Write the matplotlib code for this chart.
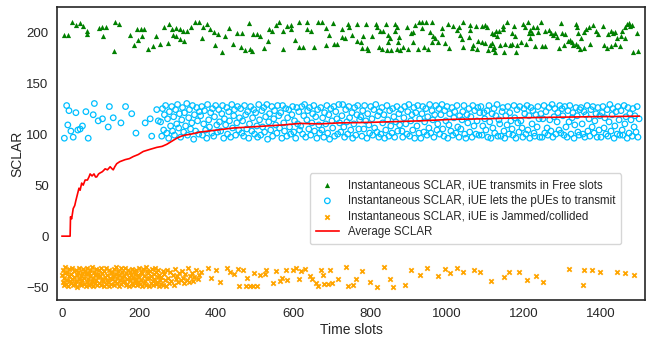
import matplotlib
matplotlib.use("Agg")
import matplotlib.pyplot as plt

# green: iUE transmits in free slots (slot, SCLAR)
green_pts = [
    (6, 197), (16, 197), (25, 210), (36, 207), (47, 209), (55, 206), (66, 201), (66, 198), (96, 204), (105, 205),
    (107, 196), (115, 205), (135, 181), (138, 210), (147, 208), (176, 197), (187, 187), (195, 203), (197, 192), (204, 203),
    (207, 196), (214, 203), (224, 183), (235, 186), (244, 196), (255, 188), (265, 205), (274, 189), (277, 208), (286, 203),
    (287, 197), (296, 196), (297, 204), (306, 203), (306, 193), (315, 201), (316, 191), (325, 201), (335, 205), (345, 210),
    (356, 210), (364, 194),
    (365, 205), (376, 208), (384, 203), (396, 200), (405, 198), (397, 187), (415, 180), (424, 196), (434, 204), (445, 188),
    (455, 199), (467, 199), (465, 185), (475, 182), (487, 183), (494, 181), (485, 209), (497, 198), (506, 198), (514, 196),
    (525, 184), (535, 191), (537, 203), (545, 201), (555, 207), (564, 210), (575, 201), (575, 183), (585, 206), (596, 207),
    (594, 203), (605, 192), (616, 210), (616, 185), (625, 185), (636, 210), (636, 203), (646, 201), (655, 185), (666, 210),
    (675, 210), (686, 204), (694, 197), (686, 187), (705, 209), (707, 188), (715, 188), (726, 203), (727, 195), (735, 194),
    (744, 208),
    (745, 205), (754, 197), (767, 208), (765, 191), (776, 190), (782, 196), (778, 184), (791, 184), (789, 208), (796, 182),
    (804, 196), (815, 208), (819, 205), (825, 201), (835, 201), (824, 185), (841, 208), (830, 183), (843, 182), (854, 182),
    (848, 197), (852, 194), (846, 190), (865, 208), (869, 205), (866, 201), (875, 195), (872, 190), (869, 183), (878, 182),
    (886, 185), (899, 183), (895, 205), (906, 199), (912, 200), (912, 190), (918, 207), (927, 210), (935, 210), (945, 210),
    (960, 210), (924, 183), (940, 185), (950, 183), (934, 204), (956, 200), (964, 196), (970, 194), (962, 190), (976, 190),
    (986, 204), (986, 198), (995, 189), (1002, 208), (1005, 184), (1016, 206), (1025, 202), (1031, 205), (1034, 197), (1038, 193),
    (1042, 210), (1042, 185), (1060, 207), (1060, 202), (1057, 195), (1068, 187), (1064, 184), (1075, 206), (1090, 206), (1099, 207),
    (1103, 205), (1081, 191), (1090, 190), (1099, 189), (1112, 187), (1077, 183), (1107, 182), (1120, 183), (1116, 199), (1123, 198),
    (1127, 201), (1136, 201), (1146, 203), (1145, 206), (1157, 210), (1116, 189), (1129, 196), (1122, 185), (1138, 187), (1151, 188),
    (1164, 187), (1168, 188), (1125, 180), (1148, 180), (1168, 199), (1177, 196), (1174, 206), (1181, 187), (1191, 190), (1205, 188),
    (1179, 180), (1198, 208), (1203, 205), (1211, 210), (1216, 202), (1214, 199), (1222, 199), (1224, 205), (1233, 205), (1237, 200),
    (1243, 210), (1216, 194), (1229, 186), (1246, 186), (1255, 186), (1255, 201), (1266, 202), (1269, 199), (1276, 197), (1281, 199),
    (1285, 195), (1298, 199), (1306, 198), (1296, 209), (1290, 184), (1304, 187), (1314, 191), (1324, 190), (1328, 187), (1335, 188),
    (1341, 186), (1345, 183), (1356, 184), (1371, 188), (1320, 192), (1335, 208), (1338, 205), (1341, 199), (1347, 194), (1361, 203),
    (1370, 205), (1378, 207), (1387, 201), (1393, 198), (1355, 200), (1406, 206), (1408, 187), (1419, 198), (1425, 201), (1430, 199),
    (1436, 200), (1415, 184), (1425, 186), (1436, 188), (1449, 186), (1441, 194), (1451, 196), (1454, 201), (1462, 205), (1467, 208),
    (1474, 209), (1475, 206), (1480, 207), (1462, 194), (1482, 180), (1497, 181), (1493, 199),
]

# blue: iUE lets the pUEs transmit, sparse start
blue_early = [
    (6, 96), (12, 128), (15, 109), (18, 123), (23, 103), (29, 97), (36, 121), (41, 104), (47, 105), (53, 108),
    (62, 122), (68, 96), (81, 119), (84, 130), (94, 113), (105, 115), (120, 107), (123, 127), (133, 116), (153, 111),
    (165, 127), (181, 120), (192, 101), (216, 111), (229, 115), (233, 98), (246, 124), (250, 113),
]

# blue, dense part
blue_x = [
    256, 259, 261, 264, 266, 269, 272, 274, 277, 279, 282, 285, 287, 290, 292, 295, 298, 300, 303, 305,
    308, 311, 313, 316, 318, 321, 324, 326, 329, 331, 334, 337, 339, 342, 344, 347, 350, 352, 355, 357,
    360, 363, 365, 368, 370, 373, 376, 378, 381, 383, 386, 389, 391, 394, 396, 399, 402, 404, 407, 409,
    412, 415, 417, 420, 422, 425, 428, 430, 433, 435, 438, 441, 443, 446, 448, 451, 454, 456, 459, 461,
    464, 467, 469, 472, 474, 477, 480, 482, 485, 487, 490, 493, 495, 498, 500, 503, 506, 508, 511, 513,
    516, 519, 521, 524, 526, 529, 532, 534, 537, 539, 542, 545, 547, 550, 552, 555, 558, 560, 563, 565,
    568, 571, 573, 576, 578, 581, 584, 586, 589, 591, 594, 597, 599, 602, 604, 607, 610, 612, 615, 617,
    620, 623, 625, 628, 630, 633, 636, 638, 641, 643, 646, 649, 651, 654, 656, 659, 662, 664, 667, 669,
    672, 675, 677, 680, 682, 685, 688, 690, 693, 695, 698, 701, 703, 706, 708, 711, 714, 716, 719, 721,
    724, 727, 729, 732, 734, 737, 740, 742, 745, 747, 750, 753, 755, 758, 760, 763, 766, 768, 771, 773,
    776, 779, 781, 784, 786, 789, 792, 794, 797, 799, 802, 805, 807, 810, 812, 815, 818, 820, 823, 825,
    828, 831, 833, 836, 838, 841, 844, 846, 849, 851, 854, 857, 859, 862, 864, 867, 870, 872, 875, 877,
    880, 883, 885, 888, 890, 893, 896, 898, 901, 903, 906, 909, 911, 914, 916, 919, 922, 924, 927, 929,
    932, 935, 937, 940, 942, 945, 948, 950, 953, 955, 958, 961, 963, 966, 968, 971, 974, 976, 979, 981,
    984, 987, 989, 992, 994, 997, 1000, 1002, 1005, 1007, 1010, 1013, 1015, 1018, 1020, 1023, 1026, 1028, 1031, 1033,
    1036, 1039, 1041, 1044, 1046, 1049, 1052, 1054, 1057, 1059, 1062, 1065, 1067, 1070, 1072, 1075, 1078, 1080, 1083, 1085,
    1088, 1091, 1093, 1096, 1098, 1101, 1104, 1106, 1109, 1111, 1114, 1117, 1119, 1122, 1124, 1127, 1130, 1132, 1135, 1137,
    1140, 1143, 1145, 1148, 1150, 1153, 1156, 1158, 1161, 1163, 1166, 1169, 1171, 1174, 1176, 1179, 1182, 1184, 1187, 1189,
    1192, 1195, 1197, 1200, 1202, 1205, 1208, 1210, 1213, 1215, 1218, 1221, 1223, 1226, 1228, 1231, 1234, 1236, 1239, 1241,
    1244, 1247, 1249, 1252, 1254, 1257, 1260, 1262, 1265, 1267, 1270, 1273, 1275, 1278, 1280, 1283, 1286, 1288, 1291, 1293,
    1296, 1299, 1301, 1304, 1306, 1309, 1312, 1314, 1317, 1319, 1322, 1325, 1327, 1330, 1332, 1335, 1338, 1340, 1343, 1345,
    1348, 1351, 1353, 1356, 1358, 1361, 1364, 1366, 1369, 1371, 1374, 1377, 1379, 1382, 1384, 1387, 1390, 1392, 1395, 1397,
    1400, 1403, 1405, 1408, 1410, 1413, 1416, 1418, 1421, 1423, 1426, 1429, 1431, 1434, 1436, 1439, 1442, 1444, 1447, 1449,
    1452, 1455, 1457, 1460, 1462, 1465, 1468, 1470, 1473, 1475, 1478, 1481, 1483, 1486, 1488, 1491, 1494, 1496, 1499,
]
blue_y = [
    112, 98, 125, 104, 119, 128, 101, 115, 96, 122, 108, 127, 103, 117, 99, 124, 110, 129, 106, 120,
    97, 114, 126, 102, 121, 108, 130, 99, 116, 124, 105, 111, 128, 95, 119, 103, 126, 113, 100, 122,
    118, 127, 99, 110, 123, 104, 96, 129, 114, 107, 121, 101, 125, 98, 117, 128, 109, 102, 124, 112,
    103, 120, 128, 96, 115, 109, 126, 100, 122, 113, 97, 129, 106, 118, 124, 99, 111, 127, 104, 116,
    125, 101, 113, 98, 128, 119, 105, 122, 96, 110, 127, 103, 116, 124, 100, 121, 108, 97, 129, 114,
    99, 123, 107, 126, 102, 117, 129, 95, 112, 120, 104, 127, 98, 115, 123, 109, 101, 128, 118, 106,
    121, 96, 128, 111, 103, 125, 98, 116, 124, 107, 100, 119, 127, 102, 113, 96, 126, 110, 122, 104,
    108, 127, 100, 118, 129, 97, 114, 123, 105, 126, 99, 111, 120, 128, 103, 117, 96, 124, 109, 101,
    126, 104, 116, 97, 121, 110, 128, 101, 119, 95, 125, 113, 106, 127, 98, 122, 115, 100, 129, 111,
    102, 118, 129, 107, 97, 124, 112, 100, 127, 116, 104, 121, 96, 110, 126, 99, 119, 128, 105, 114,
    117, 98, 123, 105, 128, 113, 96, 120, 109, 101, 127, 115, 99, 124, 106, 129, 102, 118, 97, 122,
    100, 126, 111, 119, 96, 104, 128, 114, 98, 123, 108, 101, 125, 117, 97, 112, 127, 103, 120, 109,
    124, 103, 97, 116, 127, 110, 100, 122, 129, 98, 113, 119, 104, 126, 96, 121, 108, 128, 101, 115,
    96, 120, 127, 102, 112, 125, 99, 117, 106, 129, 101, 123, 114, 97, 119, 128, 104, 110, 125, 100,
    119, 129, 105, 98, 123, 113, 127, 96, 109, 120, 103, 126, 99, 116, 122, 101, 128, 107, 97, 118,
    105, 114, 122, 128, 100, 96, 119, 111, 125, 102, 117, 97, 128, 108, 123, 100, 113, 126, 99, 121,
    127, 99, 108, 121, 115, 104, 123, 97, 128, 112, 96, 120, 106, 125, 101, 118, 129, 98, 114, 110,
    98, 122, 126, 103, 96, 118, 109, 127, 100, 121, 113, 105, 99, 128, 116, 96, 124, 111, 102, 127,
    113, 106, 97, 125, 120, 100, 128, 104, 118, 96, 126, 110, 123, 101, 98, 119, 107, 127, 115, 97,
    120, 97, 115, 128, 101, 122, 106, 99, 126, 114, 103, 129, 97, 117, 125, 100, 112, 121, 104, 128,
    101, 125, 118, 99, 127, 107, 97, 123, 112, 128, 100, 116, 121, 96, 109, 126, 118, 102, 99, 124,
    126, 110, 100, 122, 97, 119, 128, 103, 115, 98, 124, 107, 127, 101, 113, 120, 97, 126, 104, 118,
    97, 121, 127, 106, 116, 100, 124, 98, 112, 129, 103, 119, 125, 96, 108, 122, 100, 127, 114, 99,
    123, 104, 99, 128, 110, 117, 96, 126, 101, 120, 114, 98, 125, 107, 118, 102, 127, 97, 115,
]

# orange: iUE jammed / collided, dense start
orange_x = [
    0, 2, 3, 5, 6, 8, 9, 11, 13, 14, 16, 17, 19, 21, 22, 24, 25, 27, 29, 30,
    32, 33, 35, 37, 38, 40, 41, 43, 45, 46, 48, 49, 51, 53, 54, 56, 57, 59, 61, 62,
    64, 65, 67, 69, 70, 72, 73, 75, 77, 78, 80, 81, 83, 85, 86, 88, 89, 91, 93, 94,
    96, 97, 99, 101, 102, 104, 105, 107, 109, 110, 112, 113, 115, 117, 118, 120, 121, 123, 125, 126,
    128, 129, 131, 133, 134, 136, 137, 139, 141, 142, 144, 145, 147, 149, 150, 152, 153, 155, 157, 158,
    160, 161, 163, 165, 166, 168, 169, 171, 173, 174, 176, 177, 179, 181, 182, 184, 185, 187, 189, 190,
    192, 193, 195, 197, 198, 200, 201, 203, 205, 206, 208, 209, 211, 213, 214, 216, 217, 219, 221, 222,
    224, 225, 227, 229, 230, 232, 233, 235, 237, 238, 240, 241, 243, 245, 246, 248, 249, 251, 253, 254,
    256, 258, 261, 263, 266, 268, 271, 273, 276, 279, 281, 284, 287, 290, 293, 296, 299, 302, 305, 308,
    311, 314, 317, 320, 324, 327, 330, 333, 337, 340, 344, 348, 352, 356, 360,
]
orange_y = [
    -38, -45, -33, -48, -41, -36, -30, -47, -43, -35, -49, -39, -32, -44, -46, -37, -31, -42, -48, -34,
    -40, -47, -33, -44, -38, -50, -35, -42, -31, -46, -39, -48, -36, -43, -32, -47, -41, -34, -49, -37,
    -45, -31, -42, -48, -36, -39, -33, -47, -44, -30, -41, -49, -35, -38, -46, -32, -43, -48, -37, -40,
    -33, -46, -39, -31, -48, -42, -36, -44, -49, -34, -40, -47, -31, -43, -38, -45, -33, -49, -41, -36,
    -47, -35, -42, -39, -32, -48, -44, -37, -30, -46, -41, -34, -49, -38, -43, -31, -47, -40, -35, -45,
    -39, -44, -31, -48, -36, -42, -47, -33, -40, -49, -35, -43, -38, -46, -32, -41, -48, -34, -44, -37,
    -42, -33, -48, -38, -45, -31, -40, -47, -35, -43, -49, -36, -32, -46, -39, -44, -30, -48, -41, -34,
    -36, -49, -41, -34, -46, -39, -32, -44, -48, -37, -42, -31, -47, -35, -45, -40, -33, -49, -38, -43,
    -47, -40, -34, -48, -37, -43, -49, -33, -41, -46, -35, -44, -38, -48, -32, -42, -39, -45, -36, -43,
    -34, -41, -46, -37, -43, -31, -45, -39, -36, -44, -40, -33, -42, -38, -35,
]

# orange, sparse part
orange_late = [
    (380, -31), (386, -41), (400, -33), (410, -45), (428, -31), (436, -35), (447, -37), (456, -32), (460, -49), (471, -33),
    (480, -41), (477, -49), (487, -49), (495, -49), (507, -49), (499, -36), (514, -38), (527, -37), (530, -33), (547, -46),
    (556, -34), (566, -44), (571, -41), (581, -33), (585, -43), (599, -33), (609, -31), (616, -42), (621, -34), (632, -32),
    (644, -39), (650, -42), (660, -46), (666, -49), (673, -33), (679, -38), (681, -47), (692, -47), (702, -46), (696, -33),
    (718, -42), (737, -30), (742, -49), (757, -48), (763, -42), (780, -34), (800, -45), (817, -50), (837, -30), (852, -42),
    (860, -50), (890, -48), (906, -33), (930, -38), (949, -31), (976, -39), (996, -32), (1008, -36), (1027, -31), (1041, -35),
    (1071, -33), (1087, -35), (1113, -44), (1149, -40), (1161, -35), (1187, -35), (1207, -43), (1231, -39), (1250, -45), (1316, -32),
    (1352, -48), (1357, -33), (1377, -33), (1397, -35), (1441, -35), (1462, -36), (1486, -38),
]

# average SCLAR
red_x = [0, 10, 21, 22, 25, 29, 33, 36, 40, 44, 47, 51, 55, 60, 66, 70, 73, 78, 83, 87,
         90, 95, 99, 104, 107, 112, 118, 125, 130, 133, 137, 142, 150, 164, 175, 185, 198, 211, 228, 246,
         260, 272, 285, 298, 310, 319, 335, 358, 380, 402, 445, 490, 532, 575, 618, 670, 720, 800, 843, 930,
         1016, 1100, 1190, 1280, 1363, 1440, 1499]
red_y = [0, 0, 0, 19, 17, 27, 30, 35, 41, 47, 45, 52, 50, 55, 55, 58, 61, 59, 61, 58,
         58, 61, 62, 63, 64, 66, 65, 68, 66, 65, 68, 71, 73, 75, 76, 78, 80, 83, 85, 87,
         88, 90, 93, 96, 98, 99, 100, 102, 103, 104, 106, 107, 108, 109, 110.5, 110, 111, 111.5, 112, 113,
         114.5, 115, 116, 116.5, 117, 117.3, 117.6]

plt.rcParams["font.family"] = ["Liberation Sans", "DejaVu Sans"]
plt.rcParams["text.color"] = "#262626"
plt.rcParams["axes.labelcolor"] = "#262626"
plt.rcParams["xtick.color"] = "#262626"
plt.rcParams["ytick.color"] = "#262626"

fig = plt.figure(figsize=(6.51, 3.37), dpi=100)
ax = fig.add_axes([0.0876, 0.110, 0.903, 0.869])

gx = [p[0] for p in green_pts]
gy = [p[1] for p in green_pts]
bx = [p[0] for p in blue_early] + blue_x
by = [p[1] for p in blue_early] + blue_y
ox = orange_x + [p[0] for p in orange_late]
oy = orange_y + [p[1] for p in orange_late]

ax.scatter(gx, gy, marker="^", s=14, color="green", linewidths=0,
           label="Instantaneous SCLAR, iUE transmits in Free slots")
ax.scatter(bx, by, marker="o", s=16, facecolors="none", edgecolors="deepskyblue", linewidths=0.9,
           label="Instantaneous SCLAR, iUE lets the pUEs to transmit")
ax.scatter(ox, oy, marker="x", s=10, color="orange", linewidths=1.3,
           label="Instantaneous SCLAR, iUE is Jammed/collided")
ax.plot(red_x, red_y, color="red", linewidth=1.2, label="Average SCLAR")

ax.set_xlim(-13, 1514)
ax.set_ylim(-62.5, 224.5)
ax.set_xticks([0, 200, 400, 600, 800, 1000, 1200, 1400])
ax.set_yticks([-50, 0, 50, 100, 150, 200])
ax.tick_params(length=0, labelsize=9.5, pad=6)
for s in ax.spines.values():
    s.set_color("#262626")
    s.set_linewidth(1.2)
ax.set_xlabel("Time slots", fontsize=10, labelpad=2)
ax.set_ylabel("SCLAR", fontsize=10, labelpad=1)

leg = ax.legend(loc="lower right", bbox_to_anchor=(0.96, 0.191), borderaxespad=0,
                fontsize=8.3, frameon=True, handlelength=2.0, borderpad=0.5, labelspacing=0.32)
leg.get_frame().set_edgecolor("#cccccc")

fig.savefig("out.png", dpi=100)
